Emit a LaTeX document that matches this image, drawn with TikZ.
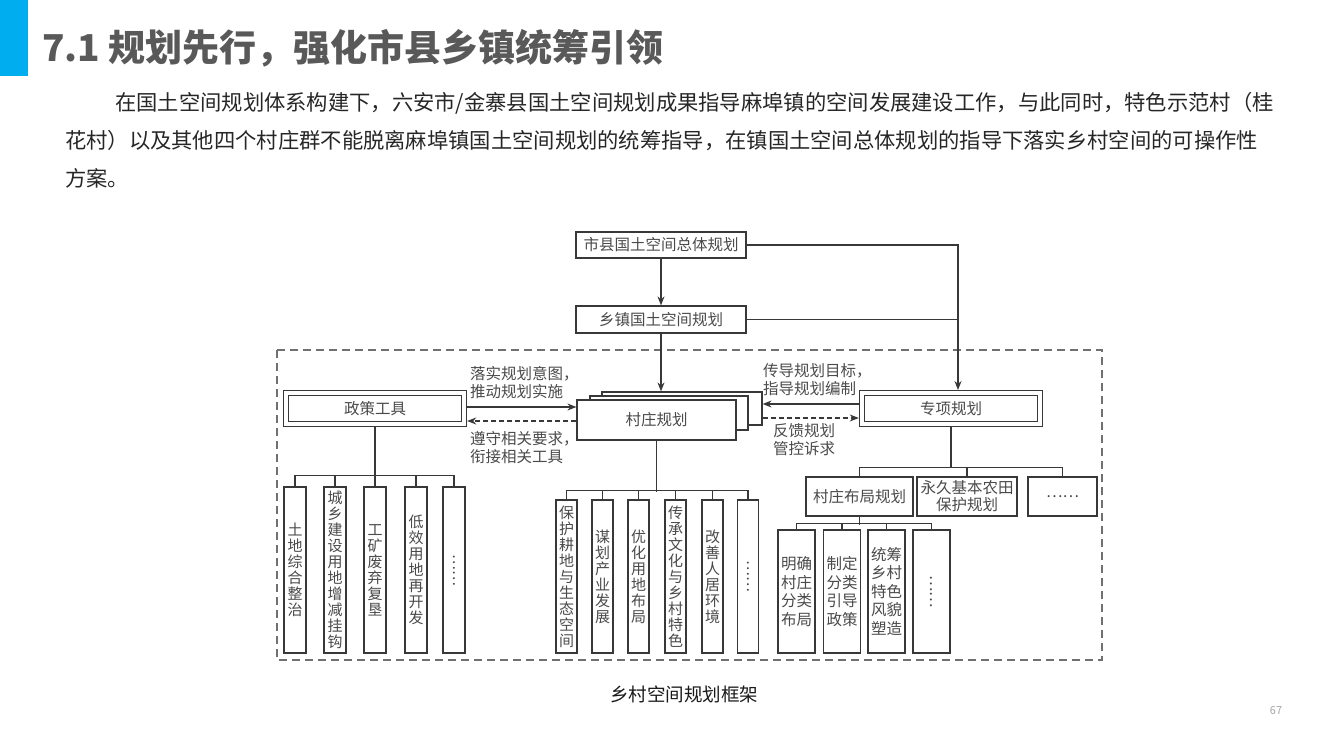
\documentclass[tikz,border=0pt]{standalone}
\usepackage{fontspec}
\setmainfont{Noto Sans CJK SC}
\usetikzlibrary{arrows.meta}
\definecolor{barblue}{HTML}{00AEEF}
\definecolor{titlegray}{HTML}{595959}
\definecolor{textdark}{HTML}{262626}
\definecolor{linedark}{HTML}{383838}
\definecolor{labelgray}{HTML}{4A4A4A}
\definecolor{framegray}{HTML}{707070}
\definecolor{pagegray}{HTML}{A6A6A6}

\begin{document}
\begin{tikzpicture}[x=1pt,y=-1pt,
		box/.style={draw=linedark,line width=1.2pt,fill=white,inner sep=0pt,text=labelgray,font=\fontsize{15.5}{17}\selectfont,align=center},
		dbox/.style={box,double,double distance=4pt,outer sep=3.2pt},
		vbox/.style={box,font=\fontsize{15}{16}\selectfont},
		wbox/.style={box,font=\fontsize{15.5}{18.5}\selectfont},
		arr/.style={draw=linedark,line width=1.2pt,-{Stealth[length=9pt,width=7pt]}},
		darr/.style={arr,dash pattern=on 5pt off 3pt},
		link/.style={draw=linedark,line width=1.2pt},
		lbl/.style={anchor=west,inner sep=0pt,text=labelgray,font=\fontsize{15.5}{18}\selectfont,align=left},
		para/.style={anchor=west,inner sep=0pt,text=textdark,font=\fontsize{21.3}{26}\selectfont}]
	\useasboundingbox (0,0) rectangle (1342,754);

	% Заголовок
	\fill[barblue] (0,0) rectangle (28,76);
	\node[anchor=west,inner sep=0pt,text=titlegray,font=\fontsize{37}{44}\selectfont\bfseries] (title) at (42,48) {7.1 规划先行，强化市县乡镇统筹引领};

	% Текст
	\node[para] (p1) at (115,103.5) {在国土空间规划体系构建下，六安市/金寨县国土空间规划成果指导麻埠镇的空间发展建设工作，与此同时，特色示范村（桂};
	\node[para] (p2) at (65,141) {花村）以及其他四个村庄群不能脱离麻埠镇国土空间规划的统筹指导，在镇国土空间总体规划的指导下落实乡村空间的可操作性};
	\node[para] (p3) at (65,178.5) {方案。};

	% Верхние уровни
	\node[box,minimum width=170pt,minimum height=26pt] (sx) at (661,245) {市县国土空间总体规划};
	\node[box,minimum width=170pt,minimum height=27pt] (xz) at (661,319.5) {乡镇国土空间规划};

	% Пунктирная рамка
	\draw[draw=framegray,line width=1.6pt,dash pattern=on 8pt off 5pt] (277,350) rectangle (1102,660);

	% Средний ряд
	\node[box,minimum width=160pt,minimum height=33pt] (cz3) at (682,408.5) {};
	\node[box,minimum width=158pt,minimum height=34pt] (cz2) at (669,413) {};
	\node[box,minimum width=159pt,minimum height=40pt] (cz) at (656.5,420) {村庄规划};
	\node[dbox,minimum width=178pt,minimum height=30.6pt] (zc) at (375,408.5) {政策工具};
	\node[dbox,minimum width=178pt,minimum height=30.6pt] (zx) at (951,408.5) {专项规划};

	\node[lbl] (l1) at (470,383) {落实规划意图，\\推动规划实施};
	\node[lbl] (l2) at (470,447.5) {遵守相关要求，\\衔接相关工具};
	\node[lbl] (l3) at (763,380) {传导规划目标，\\指导规划编制};
	\node[lbl] (l4) at (773,439.5) {反馈规划\\管控诉求};

	% Стрелки
	\draw[arr] (sx.south) -- (xz.north);
	\draw[arr] (xz.south) -- (xz.south |- cz3.north);
	\coordinate (zxin) at ([xshift=7pt]zx.north);
	\draw[arr] (sx.east) -| (zxin);
	\draw[link] (xz.east) -- (xz.east -| zxin);
	\draw[arr] ([yshift=1.5pt]zc.east) -- ([yshift=13pt]cz.west);
	\draw[darr] ([yshift=-1pt]cz.west) -- ([yshift=-12.5pt]zc.east);
	\draw[arr] ([yshift=4.5pt]zx.west) -- ([yshift=4.5pt]cz3.east);
	\draw[darr] ([yshift=-9.5pt]cz3.east) -- ([yshift=-9.5pt]zx.west);

	% Левая ветка
	\node[vbox,minimum width=22pt,minimum height=166pt] (t1) at (295,570) {土\\地\\综\\合\\整\\治};
	\node[vbox,minimum width=22pt,minimum height=166pt] (t2) at (335,570) {城\\乡\\建\\设\\用\\地\\增\\减\\挂\\钩};
	\node[vbox,minimum width=22pt,minimum height=166pt] (t3) at (375,570) {工\\矿\\废\\弃\\复\\垦};
	\node[vbox,minimum width=22pt,minimum height=166pt] (t4) at (416,570) {低\\效\\用\\地\\再\\开\\发};
	\node[vbox,minimum width=22pt,minimum height=166pt] (t5) at (454,570) {\rotatebox{-90}{……}};
	\draw[link] (zc.south) -- ++(0,49);
	\draw[link] (t1.north) -- ++(0,-11) -| (t5.north);
	\foreach \n in {2,3,4} \draw[link] (t\n.north) -- ++(0,-11);

	% Центральная ветка
	\node[vbox,minimum width=21pt,minimum height=153pt] (m1) at (566.5,576.5) {保\\护\\耕\\地\\与\\生\\态\\空\\间};
	\node[vbox,minimum width=21pt,minimum height=153pt] (m2) at (602.5,576.5) {谋\\划\\产\\业\\发\\展};
	\node[vbox,minimum width=21pt,minimum height=153pt] (m3) at (638.5,576.5) {优\\化\\用\\地\\布\\局};
	\node[vbox,minimum width=21pt,minimum height=153pt] (m4) at (675.5,576.5) {传\\承\\文\\化\\与\\乡\\村\\特\\色};
	\node[vbox,minimum width=21pt,minimum height=153pt] (m5) at (712.5,576.5) {改\\善\\人\\居\\环\\境};
	\node[vbox,minimum width=21pt,minimum height=153pt] (m6) at (748,576.5) {\rotatebox{-90}{……}};
	\draw[link] (cz.south) -- ++(0,51);
	\draw[link] (m1.north) -- ++(0,-9) -| (m6.north);
	\foreach \n in {2,...,5} \draw[link] (m\n.north) -- ++(0,-9);

	% Правая ветка
	\node[box,minimum width=107pt,minimum height=39pt] (r1) at (859.5,496.5) {村庄布局规划};
	\node[box,minimum width=100pt,minimum height=39pt] (r2) at (967,496.5) {永久基本农田\\保护规划};
	\node[box,minimum width=69pt,minimum height=39pt] (r3) at (1062.5,496.5) {……};
	\draw[link] (zx.south) -- ++(0,41);
	\draw[link] (r1.north) -- ++(0,-9) -| (r3.north);
	\draw[link] (r2.north) -- ++(0,-9);

	\node[wbox,minimum width=37pt,minimum height=123pt] (s1) at (796.5,591.5) {明确\\村庄\\分类\\布局};
	\node[wbox,minimum width=37pt,minimum height=123pt] (s2) at (842,591.5) {制定\\分类\\引导\\政策};
	\node[wbox,minimum width=37pt,minimum height=123pt] (s3) at (886.5,591.5) {统筹\\乡村\\特色\\风貌\\塑造};
	\node[wbox,minimum width=37pt,minimum height=123pt] (s4) at (931.5,591.5) {\rotatebox{-90}{……}};
	\draw[link] (r1.south) -- ++(0,8);
	\draw[link] (s1.north) -- ++(0,-6) -| (s4.north);
	\foreach \n in {2,3} \draw[link] (s\n.north) -- ++(0,-6);

	% Подпись
	\node[inner sep=0pt,text=black!90,font=\fontsize{18.5}{22}\selectfont] (cap) at (684,694) {乡村空间规划框架};
	\node[inner sep=0pt,text=pagegray,font=\fontsize{11}{13}\selectfont] (page) at (1276,711) {67};
\end{tikzpicture}
\end{document}
